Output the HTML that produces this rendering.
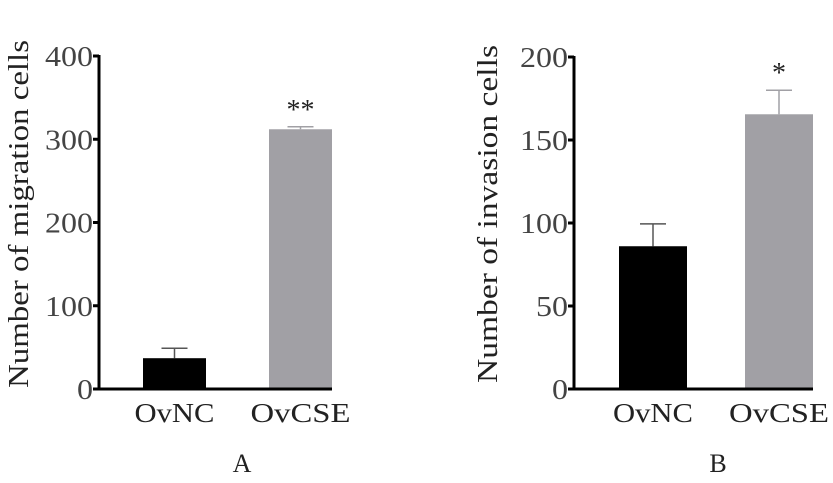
<!DOCTYPE html>
<html><head><meta charset="utf-8"><style>
html,body{margin:0;padding:0;background:#fff;}
svg{display:block;font-family:"Liberation Serif",serif;}
</style></head><body>
<svg id="c" width="833" height="483" viewBox="0 0 833 483" xmlns="http://www.w3.org/2000/svg"></svg>
<script>
const categories = ["OvNC", "OvCSE"];
const migrationValues = [37, 312];
const migrationErrors = [49, 315];
const migrationTicks = [0, 100, 200, 300, 400];
const migrationStars = ["", "**"];
const invasionValues = [86, 165.5];
const invasionErrors = [99.5, 180];
const invasionTicks = [0, 50, 100, 150, 200];
const invasionStars = ["", "*"];
const barColors = ["#000000", "#a1a0a5"];

const NS = "http://www.w3.org/2000/svg";
const svg = document.getElementById("c");
function mk(tag, attrs, parent){
  const e = document.createElementNS(NS, tag);
  for (const k in attrs) e.setAttribute(k, attrs[k]);
  (parent||svg).appendChild(e);
  return e;
}

function panel(p){
  const g = mk("g", {});
  
  
  const y = v => p.y0 - (v - p.ticks[0]) / (p.ticks[p.ticks.length-1] - p.ticks[0]) * (p.y0 - p.y1);
  categories.forEach((c, i) => {
    const bx = p.barX[i];
    const err = mk("g", {}, g);
    
    
    const col = i === 0 ? "#555" : "#a1a0a5";
    mk("line", {x1: bx + p.bw/2, x2: bx + p.bw/2, y1: y(p.values[i]), y2: y(p.errors[i]), stroke: col, "stroke-width": 1.5}, err);
    mk("line", {x1: bx + p.bw/2 - 13, x2: bx + p.bw/2 + 13, y1: y(p.errors[i]), y2: y(p.errors[i]), stroke: col, "stroke-width": 1.5}, err);
    const r = mk("rect", {x: bx, y: y(p.values[i]), width: p.bw, height: p.y0 - y(p.values[i]), fill: barColors[i]}, g);
    
    
    const lbl = mk("text", {x: bx + p.bw/2, y: 422, "text-anchor": "middle", "font-size": 27, fill: "#222",
      textLength: c.length * 20, lengthAdjust: "spacingAndGlyphs"}, g);
    lbl.textContent = c;
    
    
    if (p.stars[i]) {
      const s = mk("text", {x: bx + p.bw/2, y: y(p.errors[i]) - 8, "text-anchor": "middle", "font-size": 28, fill: "#222"}, g);
      s.textContent = p.stars[i];
      
      
    }
  });
  const ya = mk("line", {x1: p.ax, x2: p.ax, y1: p.y1 - 1, y2: p.y0 + 1.5, stroke: "#000", "stroke-width": 3}, g);
  
  
  const xa = mk("line", {x1: p.ax - 1.5, x2: p.xEnd, y1: p.y0, y2: p.y0, stroke: "#000", "stroke-width": 3}, g);
  
  
  p.ticks.forEach(t => {
    mk("line", {x1: p.ax - 6, x2: p.ax, y1: y(t), y2: y(t), stroke: "#000", "stroke-width": 3}, g);
    const s = String(t);
    const tl = mk("text", {x: p.ax - 6, y: y(t) + 10, "text-anchor": "end", "font-size": 29, fill: "#444",
      textLength: s.length * 16, lengthAdjust: "spacingAndGlyphs"}, g);
    tl.textContent = s;
    
    
  });
  const tt = mk("text", {x: 0, y: 0, "text-anchor": "middle", "font-size": 28, fill: "#222",
    textLength: p.titleLen, lengthAdjust: "spacingAndGlyphs",
    transform: `translate(${p.titleX},${p.titleY}) rotate(-90)`}, g);
  tt.textContent = p.title;
  
  
  const pl = mk("text", {x: p.letterX, y: 472, "text-anchor": "middle", "font-size": 26, fill: "#222"}, g);
  pl.textContent = p.letter;
  
  
}

panel({name: "migration-chart", ticks: migrationTicks, values: migrationValues, errors: migrationErrors, stars: migrationStars,
  ax: 99, y0: 389, y1: 56, xEnd: 332, barX: [143, 269], bw: 63, title: "Number of migration cells", titleX: 28, titleY: 214, titleLen: 348, letter: "A", letterX: 242});
panel({name: "invasion-chart", ticks: invasionTicks, values: invasionValues, errors: invasionErrors, stars: invasionStars,
  ax: 574, y0: 389, y1: 57, xEnd: 813, barX: [619, 745], bw: 68, title: "Number of invasion cells", titleX: 497, titleY: 214, titleLen: 338, letter: "B", letterX: 718});
</script>
</body></html>
